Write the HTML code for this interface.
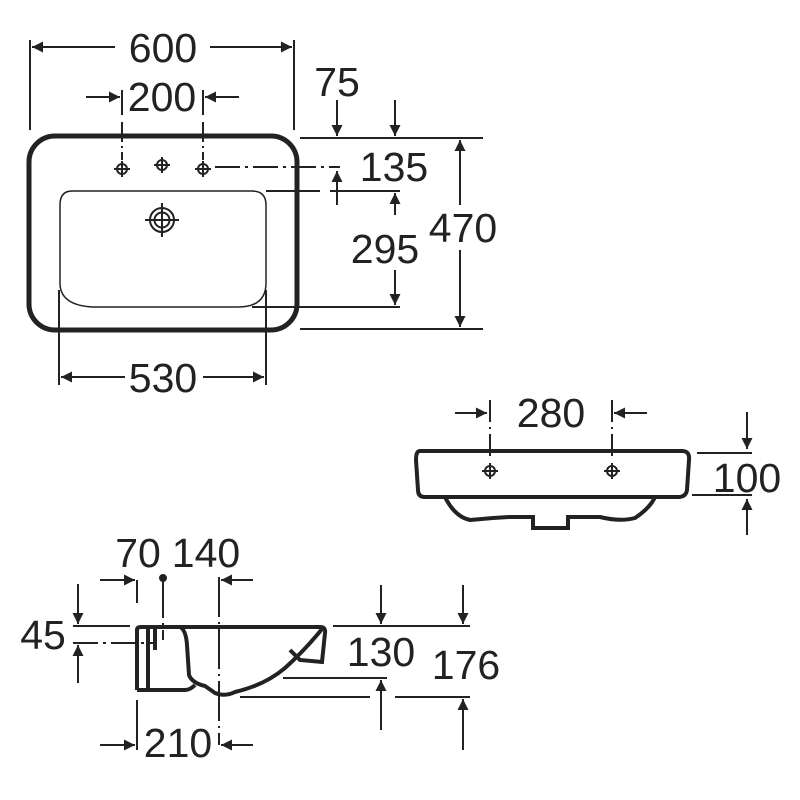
<!DOCTYPE html>
<html><head><style>body{margin:0;background:#fff}svg{display:block}text{font-family:"Liberation Sans",sans-serif;font-size:41px;fill:#222}</style></head><body>
<svg width="800" height="800" viewBox="0 0 800 800">
<defs><marker id="a" viewBox="0 0 10 10" refX="10" refY="5" markerWidth="20" markerHeight="11" markerUnits="userSpaceOnUse" orient="auto"><path d="M0,0L10,5L0,10Z" fill="#222"/></marker>
<g id="h"><circle r="5" fill="none" stroke="#222" stroke-width="2"/><path d="M-8,0H8M0,-8V8" stroke="#222" stroke-width="2"/></g></defs>
<g stroke="#222" stroke-width="2" fill="none">
<!-- top view -->
<rect x="29" y="136" width="268" height="194" rx="26" stroke-width="5"/>
<path d="M72,191 H252 Q266,191 266,205 V283 Q266,307 238,307 H92 Q60,305 60,283 V205 Q60,191 72,191Z" stroke-width="1.5"/>
<path d="M30,40V130M294,40V130M122,90V115M203,90V115M59,290V385M266,290V385"/>
<path d="M122,122V160M203,122V160" stroke-dasharray="20,4,2,4"/>
<path d="M215,167H340" stroke-dasharray="25,5,3,5"/>
<path d="M300,138H483M300,329H483M266,191H320M330,191H400M252,307H400"/>
<path d="M115,47H32" marker-end="url(#a)"/><path d="M210,47H292" marker-end="url(#a)"/>
<path d="M86,97H120" marker-end="url(#a)"/><path d="M239,97H205" marker-end="url(#a)"/>
<path d="M337,100V136" marker-end="url(#a)"/><path d="M395,100V136" marker-end="url(#a)"/>
<path d="M337,205V171" marker-end="url(#a)"/>
<path d="M395,215V193" marker-end="url(#a)"/><path d="M395,270V305" marker-end="url(#a)"/>
<path d="M460,205V140" marker-end="url(#a)"/><path d="M460,250V327" marker-end="url(#a)"/>
<path d="M125,377H61" marker-end="url(#a)"/><path d="M203,377H264" marker-end="url(#a)"/>
<circle cx="162" cy="220" r="12"/><circle cx="162" cy="220" r="7.5"/><path d="M145,220H179M162,203V237"/>
<!-- front view -->
<path d="M420,451 H682 Q690,451 689,460 L687,490 Q686,497 678,497 H425 Q418,497 418,490 L416,460 Q416,451 420,451Z" stroke-width="4"/>
<path d="M445,497 Q455,517 470,520 Q490,518 510,517 H533 V528 H568 V517 H600 Q620,522 635,518 Q650,508 655,497" stroke-width="4"/>
<path d="M490,400V460M612,400V460" stroke-dasharray="22,5,2,5"/>
<path d="M455,413H487" marker-end="url(#a)"/><path d="M647,413H614" marker-end="url(#a)"/>
<path d="M697,453H752M692,495H752"/>
<path d="M747,412V449" marker-end="url(#a)"/><path d="M747,535V499" marker-end="url(#a)"/>
<!-- side view -->
<path d="M163,578V640M219,577V745" stroke-dasharray="40,5,2,5"/>
<path d="M137,580V603M137,700V750"/>
<path d="M73,626H130M333,626H470M283,678H387M240,697H370M395,697H470"/>
<path d="M73,643H155" stroke-dasharray="25,5,3,5"/>
<path d="M78,584V624" marker-end="url(#a)"/><path d="M78,683V645" marker-end="url(#a)"/>
<path d="M100,580H135" marker-end="url(#a)"/><path d="M253,580H221" marker-end="url(#a)"/>
<path d="M100,745H135" marker-end="url(#a)"/><path d="M253,745H221" marker-end="url(#a)"/>
<path d="M381,585V624" marker-end="url(#a)"/><path d="M381,730V680" marker-end="url(#a)"/>
<path d="M463,585V624" marker-end="url(#a)"/><path d="M463,750V699" marker-end="url(#a)"/>
<g stroke-width="4">
<path d="M141,690 H148 V628 M137,690 V630 Q137,627 141,627 H320 Q326,627 325,633 L322,662 L300,660 L290,650"/>
<path d="M180,627 Q186,630 187,645 L189,675 Q192,683 205,686 L215,693 Q225,697 235,692 Q265,685 285,668 Q305,650 322,629"/>
<path d="M137,690 H185 Q190,690 195,685"/>
<path d="M148,640 V628 M155,627 V650"/>
</g>
<circle cx="163" cy="578" r="3" fill="#222"/>
</g>
<g fill="#222" stroke="#222" stroke-width="2">
<use href="#h" x="122" y="169"/><use href="#h" x="162" y="165"/><use href="#h" x="203" y="169"/>
<use href="#h" x="490" y="471"/><use href="#h" x="612" y="471"/>
</g>
<text x="163" y="62" text-anchor="middle">600</text>
<text x="162" y="111" text-anchor="middle">200</text>
<text x="337" y="96" text-anchor="middle">75</text>
<text x="394" y="181" text-anchor="middle">135</text>
<text x="385" y="263" text-anchor="middle">295</text>
<text x="463" y="242" text-anchor="middle">470</text>
<text x="163" y="392" text-anchor="middle">530</text>
<text x="551" y="427" text-anchor="middle">280</text>
<text x="747" y="492" text-anchor="middle">100</text>
<text x="138" y="567" text-anchor="middle">70</text>
<text x="206" y="567" text-anchor="middle">140</text>
<text x="43" y="649" text-anchor="middle">45</text>
<text x="178" y="757" text-anchor="middle">210</text>
<text x="381" y="666" text-anchor="middle">130</text>
<text x="466" y="679" text-anchor="middle">176</text>
</svg>
</body></html>
